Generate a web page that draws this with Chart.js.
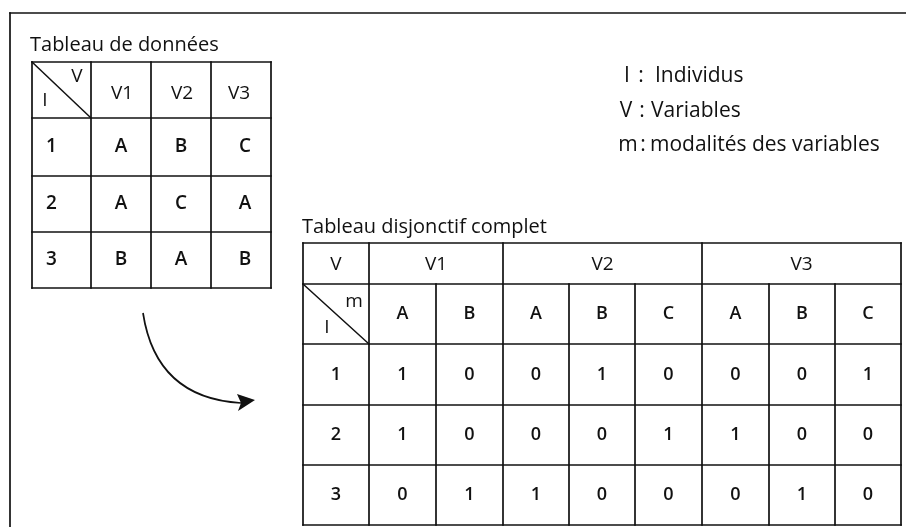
<!DOCTYPE html>
<html><head><meta charset="utf-8">
<script src="https://cdn.jsdelivr.net/npm/chart.js@4.4.0/dist/chart.umd.min.js"></script>
<style>html,body{margin:0;padding:0;background:#fff}#wrap{width:906px;height:527px;position:relative}</style>
</head><body><div id="wrap"><canvas id="c"></canvas></div>
<script>
// ---- data ----
const individus = ['1', '2', '3'];
const variables = ['V1', 'V2', 'V3'];
const dataRows = [
  ['A', 'B', 'C'],
  ['A', 'C', 'A'],
  ['B', 'A', 'B']
];
const modalites = [['A', 'B'], ['A', 'B', 'C'], ['A', 'B', 'C']];
const disjRows = [
  [1, 0, 0, 1, 0, 0, 0, 1],
  [1, 0, 0, 0, 1, 1, 0, 0],
  [0, 1, 1, 0, 0, 0, 1, 0]
];
const legendItems = [['I', 'Individus'], ['V', 'Variables'], ['m', 'modalités des variables']];
const titles = ['Tableau de données', 'Tableau disjonctif complet'];

// ---- layout (in scale units) ----
const FONT = '"Open Sans", "Noto Sans", sans-serif';
const T1 = { x: [32, 91, 151, 211, 271], y: [62, 118, 176, 232, 288] };
const T2 = { x: [303, 369, 436, 503, 569, 635, 702, 769, 835, 901], y: [243, 284, 344, 405, 465, 525] };
const LEG = { y: [76, 111, 145], sym: [627, 626, 628], colon: [641, 642, 643], txt: [655, 651, 650] };

const tablePlugin = {
  id: 'tables',
  afterDatasetsDraw(chart) {
    const ctx = chart.ctx, sx = chart.scales.x, sy = chart.scales.y;
    const X = v => sx.getPixelForValue(v), Y = v => sy.getPixelForValue(v);
    ctx.save();
    ctx.strokeStyle = '#111'; ctx.fillStyle = '#111';
    ctx.lineCap = 'square';
    const line = (x1, y1, x2, y2, w) => { ctx.lineWidth = w || 1.7; ctx.beginPath(); ctx.moveTo(X(x1), Y(y1)); ctx.lineTo(X(x2), Y(y2)); ctx.stroke(); };
    const text = (s, x, y, size, align, weight) => {
      ctx.font = (weight || '600') + ' ' + size + 'px ' + FONT;
      ctx.textAlign = align || 'center'; ctx.textBaseline = 'middle';
      ctx.fillText(s, X(x), Y(y));
    };
    // outer frame
    line(10, 13, 906, 13, 1.7); line(10, 13, 10, 527, 1.7);
    // titles
    text(titles[0], 30, 45, 20, 'left', '400');
    text(titles[1], 302, 227, 20, 'left', '400');
    // legend
    legendItems.forEach((it, i) => {
      text(it[0], LEG.sym[i], LEG.y[i], 21, 'center', '400');
      text(':', LEG.colon[i], LEG.y[i], 21, 'center', '400');
      text(it[1], LEG.txt[i], LEG.y[i], 21, 'left', '400');
    });

    // table 1 grid
    T1.x.forEach(x => line(x, T1.y[0], x, T1.y[T1.y.length - 1]));
    T1.y.forEach(y => line(T1.x[0], y, T1.x[T1.x.length - 1], y));
    line(T1.x[0], T1.y[0], T1.x[1], T1.y[1], 1.5);
    text('V', 77, 77, 19, 'center', '500');
    text('I', 45, 101, 19, 'center', '500');
    const cx1 = i => (T1.x[i] + T1.x[i + 1]) / 2, cy1 = j => (T1.y[j] + T1.y[j + 1]) / 2;
    variables.forEach((v, i) => text(v, cx1(i + 1) + (i === 2 ? -2 : 1), cy1(0) + 4, 19, 'center', '500'));
    individus.forEach((ind, j) => {
      text(ind, cx1(0) - 10, cy1(j + 1), 19);
      dataRows[j].forEach((val, i) => text(val, cx1(i + 1) + (i === 2 ? 4 : 0), cy1(j + 1), 19));
    });

    // table 2 grid
    const n = T2.x.length - 1, yb = T2.y[T2.y.length - 1];
    T2.y.forEach(y => line(T2.x[0], y, T2.x[n], y));
    const bounds = [0, 1];
    let acc = 1; modalites.forEach(m => { acc += m.length; bounds.push(acc); });
    T2.x.forEach((x, i) => {
      const top = bounds.includes(i) ? T2.y[0] : T2.y[1];
      line(x, top, x, yb);
    });
    line(T2.x[0], T2.y[1], T2.x[1], T2.y[2], 1.5);
    const cx2 = i => (T2.x[i] + T2.x[i + 1]) / 2, cy2 = j => (T2.y[j] + T2.y[j + 1]) / 2;
    text('V', cx2(0), cy2(0) + 1, 19, 'center', '500');
    text('m', 354, 302, 19, 'center', '500');
    text('I', 327, 328, 19, 'center', '500');
    let col = 1;
    modalites.forEach((m, g) => {
      const xm = (T2.x[col] + T2.x[col + m.length]) / 2;
      text(variables[g], xm, cy2(0) + 1, 19, 'center', '500');
      m.forEach((mm, k) => text(mm, cx2(col + k), cy2(1), 18));
      col += m.length;
    });
    individus.forEach((ind, j) => {
      text(ind, cx2(0), cy2(j + 2), 18);
      disjRows[j].forEach((v, i) => text(String(v), cx2(i + 1), cy2(j + 2), 18));
    });

    // arrow
    ctx.lineWidth = 1.7; ctx.lineCap = 'butt';
    ctx.beginPath();
    ctx.moveTo(X(143), Y(313));
    ctx.quadraticCurveTo(X(156), Y(398), X(241), Y(403));
    ctx.stroke();
    ctx.beginPath();
    ctx.moveTo(X(255), Y(400));
    ctx.lineTo(X(237), Y(394));
    ctx.lineTo(X(241), Y(403));
    ctx.lineTo(X(238), Y(411));
    ctx.closePath(); ctx.fill();
    ctx.restore();
  }
};

new Chart(document.getElementById('c'), {
  type: 'scatter',
  data: { datasets: [{ data: [], pointRadius: 0 }] },
  options: {
    responsive: true, maintainAspectRatio: false, animation: false,
    layout: { padding: 0 },
    plugins: { legend: { display: false }, tooltip: { enabled: false } },
    scales: {
      x: { type: 'linear', min: 0, max: 906, display: false },
      y: { type: 'linear', min: 0, max: 527, reverse: true, display: false }
    }
  },
  plugins: [tablePlugin]
});
</script></body></html>
